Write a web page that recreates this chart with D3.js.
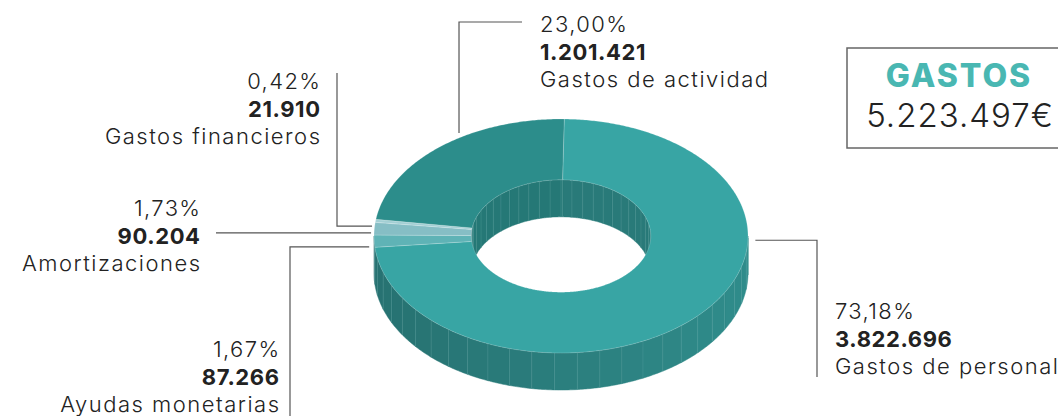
<!DOCTYPE html>
<html>
<head>
<meta charset="utf-8">
<script src="https://cdn.jsdelivr.net/npm/d3@7"></script>
<style>
  html, body { margin: 0; padding: 0; background: #fff; }
  svg { display: block; font-family: Inter, "Open Sans", sans-serif; }
</style>
</head>
<body>
<svg id="chart" width="1058" height="416"></svg>
<script>
// ── data ────────────────────────────────────────────────────────────────
const categories = ["Gastos de personal", "Ayudas monetarias", "Amortizaciones", "Gastos financieros", "Gastos de actividad"];
const amounts = [3822696, 87266, 90204, 21910, 1201421];
const sliceColors = ["#38a5a4", "#5fb3b6", "#86bec5", "#a3cfd4", "#2c8d8b"];
const totalTitle = "GASTOS";

// ── layout ──────────────────────────────────────────────────────────────
const cx = 561, cy = 236, rx = 187, ry = 117, depth = 37, innerRatio = 0.48;
const startDeg = 1;
// label blocks: text anchor point + leader definition (angle on rim, then steps)
const labelLayout = [
  { x: 835, y: 319, anchor: "start", rim: { angle: 92, k: 1.04 }, steps: [["h", 817], ["v", 377]] },
  { x: 279, y: 357, anchor: "end", rim: { angle: -95.2, k: 1.03 }, steps: [["h", 290], ["v", 420]] },
  { x: 200, y: 216, anchor: "end", rim: { angle: -88.5, k: 1.016 }, steps: [["h", 216]] },
  { x: 320, y: 89, anchor: "end", rim: { angle: -85.2, k: 1.014 }, steps: [["h", 337], ["v", 73]] },
  { x: 540, y: 32, anchor: "start", rim: { angle: -31.8, k: 1.035 }, steps: [["v", 22], ["h", 522]] }
];
const lineGap = 27.5;

const locale = d3.formatLocale({ decimal: ",", thousands: ".", grouping: [3], currency: ["", "€"] });
const fmtInt = locale.format(",d");
const fmtPct = locale.format(".2f");

const svg = d3.select("#chart");
const total = d3.sum(amounts);

const pie = d3.pie().sort(null).value(d => d.value)
  .startAngle(startDeg * Math.PI / 180).endAngle(startDeg * Math.PI / 180 + 2 * Math.PI);
const arcs = pie(categories.map((c, i) => ({ name: c, value: amounts[i], color: sliceColors[i] })));

// project an angle (d3.pie convention: 0 = top, clockwise) on the ellipse
const proj = (a, k, dy = 0) => [cx + rx * k * Math.sin(a), cy - ry * k * Math.cos(a) + dy];
const arcPts = (a0, a1, k, dy) => {
  const n = Math.max(2, Math.ceil(Math.abs(a1 - a0) / 0.01));
  return d3.range(n + 1).map(i => proj(a0 + (a1 - a0) * i / n, k, dy));
};
const line = d3.line();

// wall segments (outer front wall / inner far wall)
function wallSegments(visA0, visA1) {
  const segs = [];
  const step = 7 * Math.PI / 180;
  arcs.forEach(d => {
    // slice range can be shifted by 2π to meet the visible window
    [-2 * Math.PI, 0, 2 * Math.PI].forEach(off => {
      const a0 = Math.max(d.startAngle + off, visA0), a1 = Math.min(d.endAngle + off, visA1);
      if (a1 <= a0) return;
      let s = Math.ceil(a0 / step) * step;
      const cuts = [a0];
      while (s < a1) { if (s > a0 + 1e-4) cuts.push(s); s += step; }
      cuts.push(a1);
      for (let i = 0; i < cuts.length - 1; i++) segs.push({ a0: cuts[i], a1: cuts[i + 1], color: d.data.color, seam: i > 0 || a0 > visA0 });
    });
  });
  return segs;
}

const g = svg.append("g");

// inner far wall (visible through the hole)
const innerSegs = wallSegments(-Math.PI / 2, Math.PI / 2);
const innerShade = s => d3.color(s.color).darker(s.color === sliceColors[4] ? 0.45 : 0.85);
g.append("g").selectAll("path").data(innerSegs).join("path")
  .attr("d", s => line([...arcPts(s.a0, s.a1, innerRatio, 0), ...arcPts(s.a1, s.a0, innerRatio, depth)]) + "Z")
  .attr("fill", innerShade).attr("stroke", innerShade).attr("stroke-width", 0.5);
g.append("g").selectAll("line").data(innerSegs.filter(s => s.seam)).join("line")
  .attr("x1", s => proj(s.a0, innerRatio)[0]).attr("y1", s => proj(s.a0, innerRatio)[1])
  .attr("x2", s => proj(s.a0, innerRatio, depth)[0]).attr("y2", s => proj(s.a0, innerRatio, depth)[1])
  .attr("stroke", "#7fb9b9").attr("stroke-opacity", 0.3).attr("stroke-width", 0.7);

// outer front wall
const outerSegs = wallSegments(Math.PI / 2, 3 * Math.PI / 2);
const shade = s => d3.color(s.color).darker(0.75 - 0.29 * Math.sin((s.a0 + s.a1) / 2));
g.append("g").selectAll("path").data(outerSegs).join("path")
  .attr("d", s => line([...arcPts(s.a0, s.a1, 1, 0), ...arcPts(s.a1, s.a0, 1, depth)]) + "Z")
  .attr("fill", shade).attr("stroke", shade).attr("stroke-width", 0.5);
g.append("g").selectAll("line").data(outerSegs.filter(s => s.seam)).join("line")
  .attr("x1", s => proj(s.a0, 1)[0]).attr("y1", s => proj(s.a0, 1)[1])
  .attr("x2", s => proj(s.a0, 1, depth)[0]).attr("y2", s => proj(s.a0, 1, depth)[1])
  .attr("stroke", "#7fbaba").attr("stroke-opacity", 0.3).attr("stroke-width", 0.7);

// top face
g.append("g").selectAll("path").data(arcs).join("path")
  .attr("d", d => line([...arcPts(d.startAngle, d.endAngle, 1, 0), ...arcPts(d.endAngle, d.startAngle, innerRatio, 0)]) + "Z")
  .attr("fill", d => d.data.color)
  .attr("stroke", "#ffffff").attr("stroke-opacity", 0.3).attr("stroke-width", 0.6);

// labels
const lab = svg.append("g").attr("fill", "#222");
arcs.forEach((d, i) => {
  const L = labelLayout[i];
  let p = proj(L.rim.angle * Math.PI / 180, L.rim.k);
  const pts = [p];
  L.steps.forEach(([dir, v]) => { p = dir === "h" ? [v, p[1]] : [p[0], v]; pts.push(p); });
  lab.append("path").attr("d", line(pts)).attr("fill", "none").attr("stroke", "#555").attr("stroke-width", 1.2);

  // letter-spacing leaves a trailing gap; push end-anchored lines right by it
  const shift = ls => L.anchor === "end" ? L.x + ls : L.x;
  const t = lab.append("text").attr("text-anchor", L.anchor).attr("font-size", 22);
  t.append("tspan").attr("x", shift(1.4)).attr("y", L.y).attr("font-weight", 300).attr("letter-spacing", 1.4).text(fmtPct(d.value / total * 100) + "%");
  t.append("tspan").attr("x", shift(0.6)).attr("y", L.y + lineGap).attr("font-weight", 700).attr("letter-spacing", 0.6).text(fmtInt(d.value));
  t.append("tspan").attr("x", shift(1.5)).attr("y", L.y + 2 * lineGap).attr("font-weight", 300).attr("letter-spacing", 1.5).text(d.data.name);
});

// total box
const box = svg.append("g");
box.append("rect").attr("x", 847).attr("y", 48).attr("width", 240).attr("height", 100)
  .attr("fill", "none").attr("stroke", "#666").attr("stroke-width", 1.5);
box.append("text").attr("x", 959).attr("y", 87).attr("text-anchor", "middle")
  .attr("font-size", 32).attr("font-weight", 800).attr("letter-spacing", 2).attr("fill", "#49b7b2").text(totalTitle);
box.append("text").attr("x", 960).attr("y", 127).attr("text-anchor", "middle")
  .attr("font-size", 33).attr("font-weight", 300).attr("letter-spacing", 1).attr("fill", "#222").text(fmtInt(total) + "€");
</script>
</body>
</html>
